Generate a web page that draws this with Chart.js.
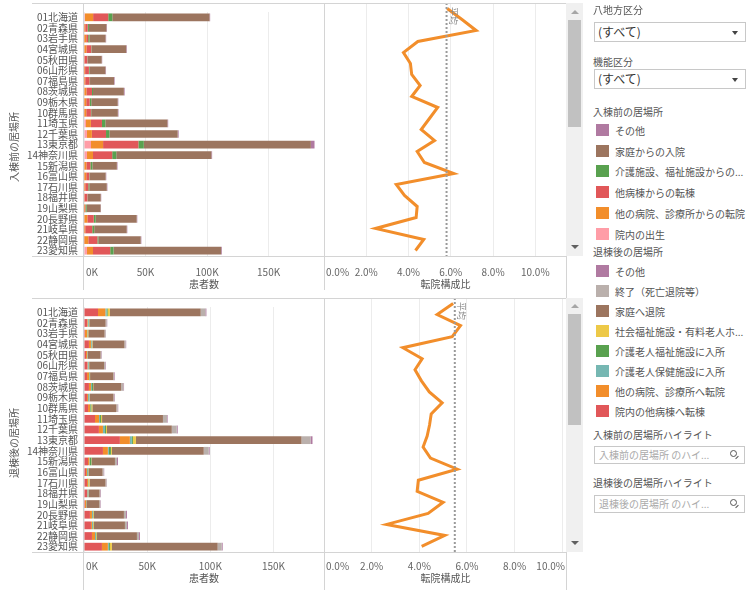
<!DOCTYPE html>
<html>
<head>
<meta charset="utf-8">
<script src="https://cdn.jsdelivr.net/npm/chart.js@4.4.0/dist/chart.umd.min.js"></script>
<style>
body { margin: 0; width: 750px; height: 590px; position: relative; overflow: hidden; background: #fff; font-family: "Noto Sans CJK JP", sans-serif; color: #555; }
canvas { position: absolute; }
.ln { position: absolute; background: #d4d4d4; }
.ytitle { position: absolute; width: 90px; height: 12px; line-height: 12px; font-size: 10px; color: #555; text-align: center; transform: rotate(-90deg); white-space: nowrap; }
.track { position: absolute; left: 566px; width: 17px; background: #f0f0f0; }
.thumb { position: absolute; left: 568px; width: 13px; background: #c1c1c1; }
.up { position: absolute; left: 571px; width: 0; height: 0; border-left: 4px solid transparent; border-right: 4px solid transparent; border-bottom: 4px solid #a6a6a6; }
.down { position: absolute; left: 571px; width: 0; height: 0; border-left: 4px solid transparent; border-right: 4px solid transparent; border-top: 4px solid #606060; }
.hdr { position: absolute; left: 593px; font-size: 10px; line-height: 12px; color: #555; white-space: nowrap; }
.sel { position: absolute; left: 594px; width: 152px; height: 20px; box-sizing: border-box; border: 1px solid #c8c8c8; font-size: 12px; line-height: 18px; color: #333; padding-left: 3px; }
.sel b { position: absolute; right: 7px; top: 8px; width: 0; height: 0; border-left: 3px solid transparent; border-right: 3px solid transparent; border-top: 4px solid #444; }
.lg { position: absolute; left: 596px; height: 13px; font-size: 10px; line-height: 13px; color: #555; white-space: nowrap; }
.lg i { position: absolute; left: 0; top: 0; width: 13px; height: 12px; }
.lg span { position: absolute; left: 19px; top: 0; }
.srch { position: absolute; left: 594px; width: 151px; height: 18px; box-sizing: border-box; border: 1px solid #c8c8c8; font-size: 10px; line-height: 16px; color: #aaa; padding-left: 4px; white-space: nowrap; }
.srch .mg { position: absolute; right: 7px; top: 3px; width: 5px; height: 5px; border: 1px solid #555; border-radius: 50%; }
.srch .mh { position: absolute; right: 5px; top: 10px; width: 4px; height: 1px; background: #555; transform: rotate(-45deg); }
</style>
</head>
<body>

<canvas id="inBar" width="324" height="290" style="left:0;top:0"></canvas>
<canvas id="inLine" width="243" height="290" style="left:324px;top:0"></canvas>
<canvas id="outBar" width="324" height="295" style="left:0;top:295px"></canvas>
<canvas id="outLine" width="243" height="295" style="left:324px;top:295px"></canvas>

<!-- panel frames -->
<div class="ln" style="left:32px;top:3px;width:535px;height:1px"></div>
<div class="ln" style="left:32px;top:256px;width:535px;height:1px"></div>
<div class="ln" style="left:83px;top:3px;width:1px;height:287px"></div>
<div class="ln" style="left:324px;top:3px;width:1px;height:287px"></div>
<div class="ln" style="left:566px;top:3px;width:1px;height:297px"></div>
<div class="ln" style="left:32px;top:298px;width:535px;height:1px"></div>
<div class="ln" style="left:32px;top:552px;width:535px;height:1px"></div>
<div class="ln" style="left:83px;top:298px;width:1px;height:292px"></div>
<div class="ln" style="left:324px;top:298px;width:1px;height:292px"></div>
<div class="ln" style="left:566px;top:298px;width:1px;height:292px"></div>

<div class="ytitle" style="left:-31px;top:141px">入棟前の居場所</div>
<div class="ytitle" style="left:-31px;top:437px">退棟後の居場所</div>

<!-- scrollbars -->
<div class="track" style="top:3px;height:253px"></div>
<div class="thumb" style="top:20px;height:107px"></div>
<div class="up" style="top:10px"></div>
<div class="down" style="top:245px"></div>
<div class="track" style="top:298px;height:254px"></div>
<div class="thumb" style="top:314px;height:111px"></div>
<div class="up" style="top:304px"></div>
<div class="down" style="top:541px"></div>

<!-- filters and legends -->
<div class="hdr" style="top:4px">八地方区分</div>
<div class="sel" style="top:22px">(すべて)<b></b></div>
<div class="hdr" style="top:56px">機能区分</div>
<div class="sel" style="top:69px">(すべて)<b></b></div>
<div class="hdr" style="top:106px">入棟前の居場所</div>
<div id="inLegend"></div>
<div class="hdr" style="top:246px">退棟後の居場所</div>
<div id="outLegend"></div>
<div class="hdr" style="top:429px">入棟前の居場所ハイライト</div>
<div class="srch" style="top:446px">入棟前の居場所 のハイ...<span class="mg"></span><span class="mh"></span></div>
<div class="hdr" style="top:477px">退棟後の居場所ハイライト</div>
<div class="srch" style="top:495px">退棟後の居場所 のハイ...<span class="mg"></span><span class="mh"></span></div>

<script>
// rows visible in the scrolled view
const prefectures = ['01北海道', '02青森県', '03岩手県', '04宮城県', '05秋田県', '06山形県', '07福島県', '08茨城県',
    '09栃木県', '10群馬県', '11埼玉県', '12千葉県', '13東京都', '14神奈川県', '15新潟県', '16富山県', '17石川県',
    '18福井県', '19山梨県', '20長野県', '21岐阜県', '22静岡県', '23愛知県'];

// 入棟前の居場所 (thousand patients)
const inBirth    = [0.8, 0.2, 0.2, 0.3, 0.1, 0.1, 0.2, 0.3, 0.2, 0.2, 1.6, 2.4, 5.7, 2.4, 0.3, 0.2, 0.2, 0.1, 0.1, 0.3, 0.2, 0.2, 2.4];
const inHospital = [6.6, 0.8, 1.6, 1.6, 0.3, 0.8, 0.8, 1.6, 1.6, 1.6, 4.0, 4.0, 9.8, 4.9, 1.6, 1.6, 0.8, 0.3, 0.8, 2.4, 0.8, 3.3, 4.9];
const inWard     = [12.3, 2.0, 1.6, 4.0, 2.3, 3.1, 3.5, 4.6, 2.8, 3.8, 9.0, 11.5, 28.7, 15.6, 3.3, 2.5, 2.5, 2.4, 0.3, 5.2, 5.7, 7.4, 14.0];
const inCare     = [3.3, 1.0, 1.0, 0.3, 0.2, 0.5, 0.4, 0.8, 1.3, 0.3, 2.7, 2.7, 4.4, 3.3, 1.6, 0.3, 0.8, 0.3, 1.0, 1.6, 1.6, 0.8, 2.7];
const inHome     = [79.0, 14.2, 13.1, 28.1, 11.5, 12.9, 19.5, 25.1, 21.5, 21.6, 50.5, 55.5, 135.7, 77.3, 19.9, 13.0, 14.2, 10.5, 11.3, 33.3, 26.4, 34.4, 87.4];
const inOther    = [0.5, 0.5, 0.5, 0.5, 0.4, 0.5, 0.5, 0.6, 0.5, 0.5, 0.6, 0.8, 3.0, 0.6, 0.5, 0.5, 0.5, 0.4, 0.3, 0.5, 0.5, 0.5, 0.6];

// 退棟後の居場所 (thousand patients)
const outWard     = [11.1, 2.4, 0.8, 3.9, 1.6, 2.6, 2.4, 3.9, 2.4, 3.2, 8.7, 11.8, 28.4, 15.0, 3.2, 1.6, 2.4, 2.4, 0.8, 4.7, 5.5, 6.3, 14.2];
const outHospital = [5.8, 0.5, 1.6, 1.6, 0.8, 0.3, 1.6, 1.6, 0.8, 1.6, 3.2, 3.2, 7.9, 3.9, 1.0, 0.8, 0.8, 0.2, 0.8, 1.6, 0.8, 2.4, 4.7];
const outHealth   = [1.0, 0.8, 0.2, 0.6, 0.2, 0.8, 0.2, 0.8, 1.0, 0.2, 0.8, 1.6, 1.6, 0.8, 0.3, 0.8, 0.2, 0.8, 0.1, 0.8, 0.8, 0.8, 0.8];
const outWelfare  = [0.8, 0.3, 0.2, 0.3, 0.1, 0.2, 0.4, 0.8, 0.2, 0.8, 0.8, 0.8, 0.8, 1.6, 1.3, 0.2, 0.2, 0.1, 0.1, 0.2, 0.2, 0.2, 0.8];
const outSocial   = [1.8, 0.2, 0.6, 0.3, 0.1, 0.2, 0.2, 0.2, 0.2, 0.8, 0.8, 0.8, 2.4, 0.8, 0.2, 0.2, 0.8, 0.1, 0.1, 0.6, 0.6, 0.6, 1.6];
const outHome     = [71.9, 12.9, 12.9, 25.3, 10.3, 11.8, 18.4, 22.1, 18.7, 19.0, 48.2, 51.3, 131.1, 72.7, 18.5, 11.1, 12.6, 8.7, 10.3, 23.7, 24.5, 31.6, 83.7];
const outEnd      = [3.7, 0.8, 0.8, 0.9, 0.6, 0.9, 0.6, 1.8, 0.6, 1.0, 3.2, 3.9, 7.1, 3.9, 1.6, 0.8, 0.8, 0.6, 0.6, 1.6, 1.6, 1.6, 3.2];
const outOther    = [0.8, 0.5, 0.3, 0.5, 0.4, 0.5, 0.5, 0.5, 0.5, 0.5, 0.5, 0.8, 1.6, 0.8, 0.8, 0.5, 0.3, 0.5, 0.4, 0.8, 0.8, 0.8, 0.8];

// 転院構成比 (%)
const transferIn  = [5.83, 6.53, 7.20, 4.44, 3.76, 4.09, 4.15, 4.55, 4.15, 5.38, 4.99, 4.60, 5.23, 4.41, 4.75, 6.14, 3.42, 3.81, 4.41, 4.36, 2.44, 4.72, 4.33];
const transferOut = [5.42, 4.75, 5.73, 5.38, 3.31, 4.12, 3.82, 4.09, 4.42, 4.96, 4.50, 4.43, 4.33, 4.16, 4.47, 5.59, 3.96, 3.91, 5.00, 4.37, 2.63, 5.07, 4.10];
const transferInAvg = 5.8;
const transferOutAvg = 5.49;

const FONT = '"Noto Sans CJK JP", sans-serif';

// x tick labels kept inside the pane like Tableau does
const tickLabels = {
    id: 'tickLabels',
    afterDraw(chart, args, opts) {
        const sc = chart.scales.x;
        const ctx = chart.ctx;
        const base = chart.chartArea.bottom;
        ctx.save();
        ctx.font = '10px ' + FONT;
        ctx.fillStyle = '#666';
        ctx.textAlign = 'center';
        ctx.textBaseline = 'middle';
        sc.ticks.forEach(function(t) {
            const txt = opts.fmt(t.value);
            const w = ctx.measureText(txt).width;
            let x = sc.getPixelForValue(t.value);
            x = Math.max(sc.left + w / 2 + 2, Math.min(sc.right - w / 2 - 2, x));
            ctx.fillText(txt, x, base + opts.dy);
        });
        ctx.fillStyle = '#555';
        ctx.fillText(opts.title, (sc.left + sc.right) / 2, base + opts.titleDy);
        ctx.restore();
    }
};

const avgLine = {
    id: 'avgLine',
    afterDatasetsDraw(chart, args, opts) {
        const ctx = chart.ctx;
        const x = chart.scales.x.getPixelForValue(opts.value);
        const area = chart.chartArea;
        ctx.save();
        ctx.strokeStyle = '#9a9a9a';
        ctx.lineWidth = 2;
        ctx.setLineDash([2, 2]);
        ctx.beginPath();
        ctx.moveTo(x, area.top);
        ctx.lineTo(x, area.bottom);
        ctx.stroke();
        ctx.translate(x + 7, area.top + 4);
        ctx.rotate(Math.PI / 2);
        ctx.font = '9px ' + FONT;
        ctx.fillStyle = '#888';
        ctx.textBaseline = 'middle';
        ctx.fillText('平均', 0, 0);
        ctx.restore();
    }
};

function barSet(label, data, color) {
    return { label: label, data: data, backgroundColor: color, borderWidth: 0, categoryPercentage: 0.73, barPercentage: 1 };
}

function barChart(id, datasets, max, axisH, dy, titleDy) {
    return new Chart(document.getElementById(id), {
        type: 'bar',
        data: { labels: prefectures, datasets: datasets },
        options: {
            indexAxis: 'y',
            responsive: false,
            animation: false,
            layout: { padding: { top: 3 } },
            scales: {
                y: {
                    stacked: true,
                    grid: { display: false, drawTicks: false },
                    border: { display: false },
                    ticks: { font: { family: FONT, size: 10 }, color: '#555', padding: 6, autoSkip: false },
                    afterFit: function(s) { s.width = 84; }
                },
                x: {
                    stacked: true,
                    min: 0,
                    max: max,
                    grid: { color: '#ececec', drawTicks: false },
                    border: { display: false },
                    ticks: { stepSize: 50, display: false, includeBounds: false },
                    afterFit: function(s) { s.height = axisH; }
                }
            },
            plugins: {
                legend: { display: false },
                tooltip: { enabled: false },
                tickLabels: { fmt: function(v) { return v + 'K'; }, dy: dy, titleDy: titleDy, title: '患者数' }
            }
        },
        plugins: [tickLabels]
    });
}

function lineChart(id, data, avg, max, axisH, dy, titleDy) {
    return new Chart(document.getElementById(id), {
        type: 'line',
        data: {
            labels: prefectures,
            datasets: [{ data: data, borderColor: '#f28e2b', borderWidth: 3, pointRadius: 0, tension: 0, fill: false }]
        },
        options: {
            indexAxis: 'y',
            responsive: false,
            animation: false,
            layout: { padding: { top: 3 } },
            scales: {
                y: { type: 'category', display: false, offset: true },
                x: {
                    type: 'linear',
                    min: 0,
                    max: max,
                    grid: { color: '#ececec', drawTicks: false },
                    border: { display: false },
                    ticks: { stepSize: 2, display: false, includeBounds: false },
                    afterFit: function(s) { s.height = axisH; }
                }
            },
            plugins: {
                legend: { display: false },
                tooltip: { enabled: false },
                tickLabels: { fmt: function(v) { return v.toFixed(1) + '%'; }, dy: dy, titleDy: titleDy, title: '転院構成比' },
                avgLine: { value: avg }
            }
        },
        plugins: [tickLabels, avgLine]
    });
}

const C = {
    purple: '#b07aa1', brown: '#9c755f', green: '#59a14f', red: '#e15759', orange: '#f28e2b',
    pink: '#ff9da7', gray: '#bab0ac', yellow: '#edc948', teal: '#76b7b2'
};

const inSets = [
    barSet('院内の出生', inBirth, C.pink),
    barSet('他の病院、診療所からの転院', inHospital, C.orange),
    barSet('他病棟からの転棟', inWard, C.red),
    barSet('介護施設、福祉施設からの入院', inCare, C.green),
    barSet('家庭からの入院', inHome, C.brown),
    barSet('その他', inOther, C.purple)
];
const outSets = [
    barSet('院内の他病棟へ転棟', outWard, C.red),
    barSet('他の病院、診療所へ転院', outHospital, C.orange),
    barSet('介護老人保健施設に入所', outHealth, C.teal),
    barSet('介護老人福祉施設に入所', outWelfare, C.green),
    barSet('社会福祉施設・有料老人ホーム等に入所', outSocial, C.yellow),
    barSet('家庭へ退院', outHome, C.brown),
    barSet('終了（死亡退院等）', outEnd, C.gray),
    barSet('その他', outOther, C.purple)
];

barChart('inBar', inSets, 195, 34, 16, 28);
lineChart('inLine', transferIn, transferInAvg, 11.5, 34, 16, 28);
barChart('outBar', outSets, 190, 38, 14, 26);
lineChart('outLine', transferOut, transferOutAvg, 10.2, 38, 14, 26);

// legends: Tableau lists them in reverse stacking order
function buildLegend(elId, sets, top, step, names) {
    const el = document.getElementById(elId);
    sets.slice().reverse().forEach(function(s, i) {
        const row = document.createElement('div');
        row.className = 'lg';
        row.style.top = Math.round(top + i * step) + 'px';
        row.innerHTML = '<i style="background:' + s.backgroundColor + '"></i><span>' + (names[i] || s.label) + '</span>';
        el.appendChild(row);
    });
}
buildLegend('inLegend', inSets, 124, 20.7, ['その他', '家庭からの入院', '介護施設、福祉施設からの...', '他病棟からの転棟', '他の病院、診療所からの転院', '院内の出生']);
buildLegend('outLegend', outSets, 265, 20, ['その他', '終了（死亡退院等）', '家庭へ退院', '社会福祉施設・有料老人ホ...', '介護老人福祉施設に入所', '介護老人保健施設に入所', '他の病院、診療所へ転院', '院内の他病棟へ転棟']);
</script>
</body>
</html>
